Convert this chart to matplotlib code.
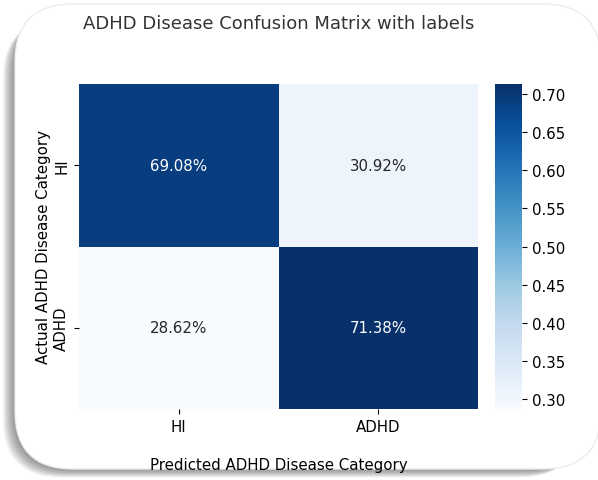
import numpy as np
import matplotlib
matplotlib.use("Agg")
import matplotlib.pyplot as plt
import seaborn as sns
from matplotlib.patches import FancyBboxPatch

# Confusion matrix values (row-normalised)
categories = ["HI", "ADHD"]
cm_values = np.array([[0.6908, 0.3092],
                      [0.2862, 0.7138]])
cell_labels = [["69.08%", "30.92%"],
               ["28.62%", "71.38%"]]

W, H = 598, 481
fig = plt.figure(figsize=(W / 100, H / 100), dpi=100)
fig.patch.set_facecolor("white")

def fx(px):
    return px / W

def fy(py):
    return 1 - py / H

card_l, card_r, card_t, card_b = 15, 598, 5, 470
radius = fx(58)

# Soft shadow behind the card, offset to the lower left
for i in range(1, 13):
    fig.patches.append(FancyBboxPatch(
        (fx(card_l - i), fy(card_b + i * 0.7)),
        fx(card_r - card_l - 8), fy(card_t + 8) - fy(card_b),
        boxstyle=f"round,pad=0,rounding_size={radius}",
        transform=fig.transFigure, facecolor="#404040",
        edgecolor="none", alpha=0.06, zorder=0,
        mutation_aspect=W / H))

# White card
fig.patches.append(FancyBboxPatch(
    (fx(card_l), fy(card_b)), fx(card_r - card_l + 3), fy(card_t) - fy(card_b),
    boxstyle=f"round,pad=0,rounding_size={radius}",
    transform=fig.transFigure, facecolor="white",
    edgecolor="#ececec", linewidth=1.0, zorder=1,
    mutation_aspect=W / H))

ax = fig.add_axes([fx(79), fy(410), fx(478 - 79), fy(85) - fy(410)])
cax = fig.add_axes([fx(495), fy(410), fx(522 - 495), fy(85) - fy(410)])
ax.set_zorder(2)
cax.set_zorder(2)

fs = 10.8
sns.heatmap(cm_values, annot=np.array(cell_labels), fmt="", cmap="Blues",
            ax=ax, cbar_ax=cax, annot_kws={"fontsize": fs})

ax.set_xticklabels(categories, fontsize=fs)
ax.set_yticklabels(categories, fontsize=fs, rotation=90, va="center")
ax.set_title("ADHD Disease Confusion Matrix with labels", fontsize=13,
             pad=40, color="#333333")
ax.set_xlabel("Predicted ADHD Disease Category", fontsize=fs, labelpad=17)
ax.set_ylabel("Actual ADHD Disease Category", fontsize=fs, labelpad=2)
cax.tick_params(labelsize=fs)
cax.set_yticks([0.30, 0.35, 0.40, 0.45, 0.50, 0.55, 0.60, 0.65, 0.70])

fig.savefig("out.png", dpi=100, facecolor="white")
